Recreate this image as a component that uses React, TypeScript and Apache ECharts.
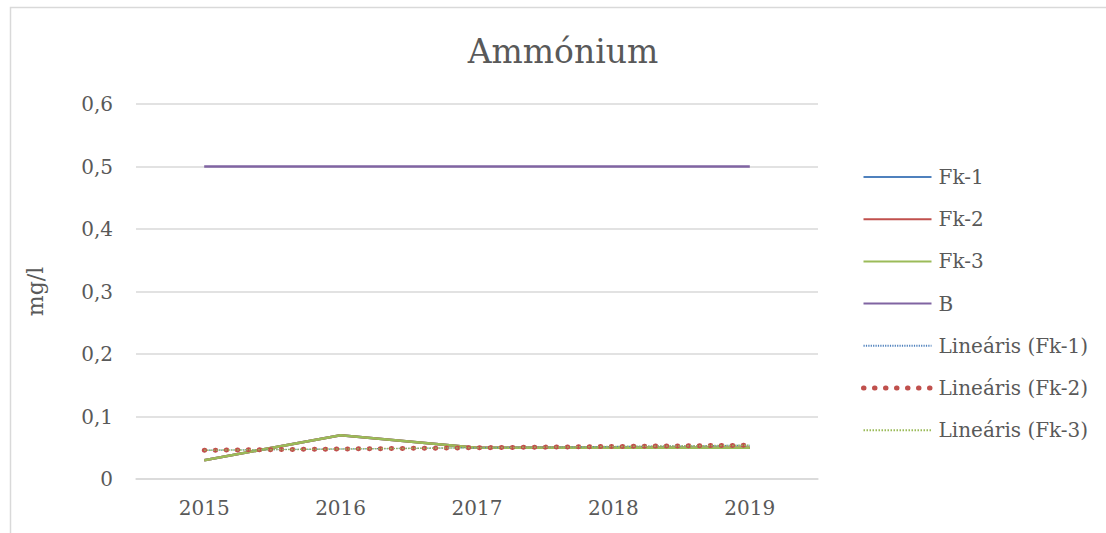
import React, { useEffect, useRef } from "react";
import * as echarts from "echarts";

const categories = ["2015", "2016", "2017", "2018", "2019"];
const fk1 = [0.03, 0.07, 0.05, 0.05, 0.05];
const fk2 = [0.03, 0.07, 0.05, 0.05, 0.05];
const fk3 = [0.03, 0.07, 0.05, 0.05, 0.05];
const bLimit = [0.5, 0.5, 0.5, 0.5, 0.5];
const trendFk1 = [0.046, 0.048, 0.05, 0.052, 0.054];
const trendFk2 = [0.046, 0.048, 0.05, 0.052, 0.054];
const trendFk3 = [0.046, 0.048, 0.05, 0.052, 0.054];

const FONT = "DejaVu Serif";
const TXT = "#595959";

export default function App() {
  const ref = useRef<HTMLDivElement>(null);
  useEffect(() => {
    const chart = echarts.init(ref.current!, null, { renderer: "svg" });
    const solid = (name: string, data: number[], color: string) => ({
      name,
      type: "line",
      data,
      symbol: "none",
      lineStyle: { color, width: 2.5 },
      itemStyle: { color },
    });
    const redDots = { color: "#C0504D", width: 5, type: [0.5, 10.5], cap: "round" };
    chart.setOption({
      animation: false,
      backgroundColor: "#ffffff",
      graphic: [
        {
          type: "rect",
          shape: { x: 10.5, y: 7.5, width: 1300, height: 700 },
          style: { fill: "none", stroke: "#D9D9D9", lineWidth: 1.5 },
          silent: true,
        },
        {
          type: "text",
          x: 563,
          y: 51,
          style: {
            text: "Ammónium",
            font: `33px '${FONT}'`,
            fill: TXT,
            textAlign: "center",
            textVerticalAlign: "middle",
          },
        },
      ],
      grid: { left: 136, right: 288, top: 104, bottom: 54 },
      legend: {
        orient: "vertical",
        left: 861,
        top: 167,
        padding: 0,
        itemWidth: 68,
        itemHeight: 20,
        itemGap: 22.2,
        itemStyle: { opacity: 0, borderWidth: 0 },
        textStyle: { fontFamily: FONT, fontSize: 20, color: TXT, lineHeight: 20, padding: [0, 0, 0, 2] },
        data: [
          "Fk-1",
          "Fk-2",
          "Fk-3",
          "B",
          "Lineáris (Fk-1)",
          { name: "Lineáris (Fk-2)", lineStyle: redDots },
          "Lineáris (Fk-3)",
        ],
      },
      xAxis: {
        type: "category",
        data: categories,
        boundaryGap: true,
        axisLine: { show: true, lineStyle: { color: "#D9D9D9", width: 1.5 } },
        axisTick: { show: false },
        axisLabel: { fontFamily: FONT, fontSize: 20, color: TXT, margin: 19 },
      },
      yAxis: {
        type: "value",
        min: 0,
        max: 0.6,
        interval: 0.1,
        name: "mg/l",
        nameLocation: "middle",
        nameGap: 90,
        nameRotate: 90,
        nameTextStyle: { fontFamily: FONT, fontSize: 22, color: TXT },
        axisLine: { show: false },
        axisTick: { show: false },
        splitLine: { lineStyle: { color: "#D9D9D9", width: 1.5 } },
        axisLabel: {
          fontFamily: FONT,
          fontSize: 20,
          color: TXT,
          margin: 23,
          formatter: (v: number) => (Math.round(v * 10) / 10).toString().replace(".", ","),
        },
      },
      series: [
        solid("Fk-1", fk1, "#4F81BD"),
        solid("Fk-2", fk2, "#C0504D"),
        solid("Fk-3", fk3, "#9BBB59"),
        solid("B", bLimit, "#8064A2"),
        {
          name: "Lineáris (Fk-1)",
          type: "line",
          data: trendFk1,
          symbol: "none",
          lineStyle: { color: "#4F81BD", width: 1.2, type: [1.2, 1.2] },
          itemStyle: { color: "#4F81BD" },
        },
        {
          name: "Lineáris (Fk-2)",
          type: "line",
          data: trendFk2,
          symbol: "none",
          lineStyle: redDots,
          itemStyle: { color: "#C0504D" },
        },
        {
          name: "Lineáris (Fk-3)",
          type: "line",
          data: trendFk3,
          symbol: "none",
          lineStyle: { color: "#9BBB59", width: 1.5, type: [1.5, 1.5] },
          itemStyle: { color: "#9BBB59" },
        },
      ],
    });
    return () => chart.dispose();
  }, []);
  return (
    <div
      ref={ref}
      style={{ position: "fixed", left: 0, top: 0, width: 1106, height: 533 }}
    />
  );
}
